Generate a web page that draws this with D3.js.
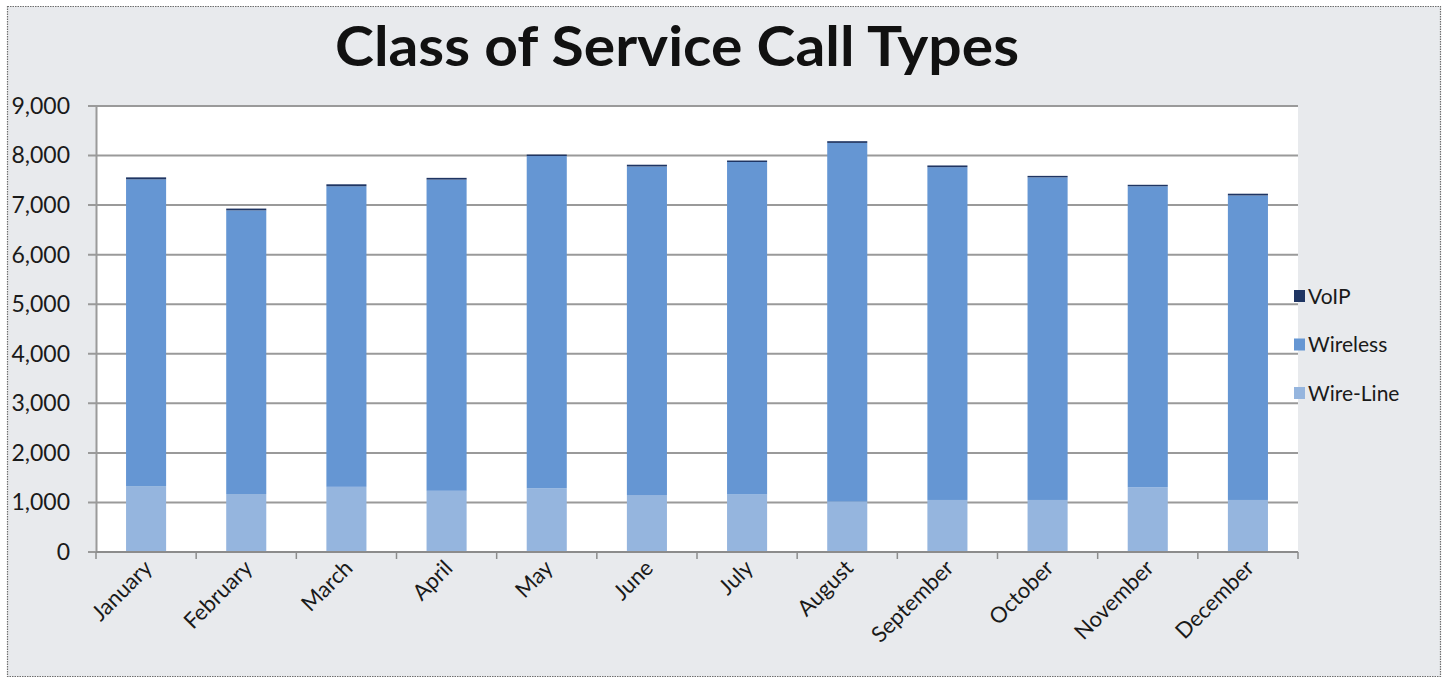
<!DOCTYPE html>
<html>
<head>
<meta charset="utf-8">
<script src="https://cdn.jsdelivr.net/npm/d3@7"></script>
<style>
  html, body { margin: 0; padding: 0; background: #ffffff; }
  svg { display: block; }
</style>
</head>
<body>
<svg id="chart" width="1447" height="679"></svg>
<script>
// Monthly call counts by class of service
const months = ["January", "February", "March", "April", "May", "June",
                "July", "August", "September", "October", "November", "December"];
const wireLine = [1330, 1170, 1315, 1235, 1285, 1150, 1160, 1015, 1050, 1050, 1305, 1050];
const wireless = [6190, 5725, 6065, 6280, 6705, 6630, 6710, 7240, 6715, 6510, 6075, 6145];
const voip     = [40, 35, 40, 35, 30, 35, 30, 35, 35, 30, 30, 35];
const yTicks   = [0, 1000, 2000, 3000, 4000, 5000, 6000, 7000, 8000, 9000];

const seriesNames = ["Wire-Line", "Wireless", "VoIP"];
const colors = { "Wire-Line": "#95b5de", "Wireless": "#6596d3", "VoIP": "#1f3563" };

const rows = months.map((m, i) => ({
  month: m, "Wire-Line": wireLine[i], "Wireless": wireless[i], "VoIP": voip[i]
}));

const svg = d3.select("#chart");
const font = "Lato, 'Open Sans', sans-serif";

// chart background and dotted frame
svg.append("rect").attr("x", 0).attr("y", 0).attr("width", 1447).attr("height", 679)
  .attr("fill", "#ffffff");
svg.append("rect").attr("x", 7.5).attr("y", 6.5).attr("width", 1433).attr("height", 670)
  .attr("fill", "#e8eaed").attr("stroke", "#6e6e6e").attr("stroke-width", 1.2)
  .attr("stroke-dasharray", "1.5,1");

const plot = { left: 96, right: 1298, top: 106, bottom: 552 };

// plot area
svg.append("rect").attr("x", plot.left).attr("y", plot.top)
  .attr("width", plot.right - plot.left).attr("height", plot.bottom - plot.top)
  .attr("fill", "#ffffff");

const x = d3.scaleBand().domain(months).range([plot.left, plot.right])
  .paddingInner(0.6).paddingOuter(0.3);
const y = d3.scaleLinear().domain([0, 9000]).range([plot.bottom, plot.top]);

// horizontal gridlines
svg.append("g").selectAll("line").data(yTicks).join("line")
  .attr("x1", plot.left - 8).attr("x2", plot.right)
  .attr("y1", d => y(d)).attr("y2", d => y(d))
  .attr("stroke", "#9a9a9a").attr("stroke-width", 2);

// y axis
const yAxis = d3.axisLeft(y).tickValues(yTicks).tickFormat(d3.format(",")).tickSize(0).tickPadding(26);
const gy = svg.append("g").attr("transform", `translate(${plot.left},0)`).call(yAxis);
gy.select(".domain").attr("stroke", "#9a9a9a").attr("stroke-width", 2);
gy.selectAll("text").attr("font-family", font).attr("font-size", 23).attr("fill", "#1a1a1a");

// stacked bars
const stack = d3.stack().keys(seriesNames);
const layers = stack(rows);
svg.append("g").selectAll("g").data(layers).join("g")
  .attr("fill", d => colors[d.key])
  .selectAll("rect").data(d => d).join("rect")
  .attr("x", d => x(d.data.month))
  .attr("width", x.bandwidth())
  .attr("y", d => y(d[1]))
  .attr("height", d => y(d[0]) - y(d[1]));

// x axis with ticks between categories
const gx = svg.append("g");
gx.append("line").attr("x1", plot.left).attr("x2", plot.right)
  .attr("y1", plot.bottom).attr("y2", plot.bottom)
  .attr("stroke", "#8c8c8c").attr("stroke-width", 2);
const boundaries = months.map(m => x(m) - x.step() * x.paddingInner() / 2)
  .concat([plot.right]);
boundaries[0] = plot.left;
gx.selectAll("line.tick").data(boundaries).join("line").attr("class", "tick")
  .attr("x1", d => d).attr("x2", d => d)
  .attr("y1", plot.bottom).attr("y2", plot.bottom + 7)
  .attr("stroke", "#8c8c8c").attr("stroke-width", 1.5);
gx.selectAll("text").data(months).join("text")
  .attr("transform", d => `translate(${x(d) + x.bandwidth() / 2 + 2},${plot.bottom + 12}) rotate(-45)`)
  .attr("text-anchor", "end")
  .attr("dy", "0.35em")
  .attr("font-family", font).attr("font-size", 22).attr("fill", "#1a1a1a")
  .text(d => d);

// legend
const legendItems = ["VoIP", "Wireless", "Wire-Line"];
const legend = svg.append("g").attr("transform", "translate(1294,296)");
const lg = legend.selectAll("g").data(legendItems).join("g")
  .attr("transform", (d, i) => `translate(0,${i * 48.5})`);
lg.append("rect").attr("x", 0).attr("y", -6).attr("width", 11).attr("height", 12)
  .attr("fill", d => colors[d]);
lg.append("text").attr("x", 14).attr("y", 0).attr("dy", "0.36em")
  .attr("font-family", font).attr("font-size", 21).attr("fill", "#1a1a1a")
  .text(d => d);

// title
svg.append("text").attr("x", 677).attr("y", 66)
  .attr("text-anchor", "middle")
  .attr("font-family", font).attr("font-weight", 700).attr("font-size", 56)
  .attr("fill", "#111111")
  .attr("textLength", 684).attr("lengthAdjust", "spacingAndGlyphs")
  .text("Class of Service Call Types");
</script>
</body>
</html>
